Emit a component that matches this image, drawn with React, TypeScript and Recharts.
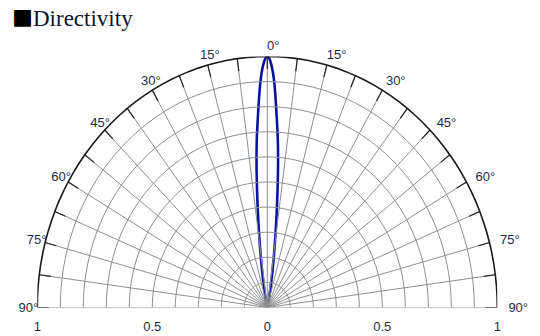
import React from 'react';
import { ComposedChart, Scatter, Line, XAxis, YAxis, ReferenceDot } from 'recharts';

// Directivity (relative intensity vs angle, symmetric)
const lobeAngles = [0, 1, 2, 3, 4, 5, 6, 7, 8, 9, 10, 12, 15, 20];
const lobeIntensity = [1.0, 0.97, 0.89, 0.77, 0.66, 0.53, 0.4, 0.29, 0.2, 0.13, 0.08, 0.035, 0.01, 0];

// grid
const ringRadii = [0.1, 0.2, 0.3, 0.4, 0.5, 0.6, 0.7, 0.8, 0.9];
const outerRadius = [1];
const spokeAngles = [-90, -82.5, -75, -67.5, -60, -52.5, -45, -37.5, -30, -22.5, -15, -7.5, 0, 7.5, 15, 22.5, 30, 37.5, 45, 52.5, 60, 67.5, 75, 82.5, 90];
const angleLabels = [0, 15, 30, 45, 60, 75, 90];
const radialTicks = [-1, -0.5, 0, 0.5, 1];

const W = 540;
const H = 336;
const ARC_STEP = 2.5;
const TICK_INNER = 0.95;
const LABEL_RX = 1.065;
const LABEL_RY = 1.045;
const LABEL_SHIFT = 0.026;

const rad = (d: number) => (d * Math.PI) / 180;
const toXY = (deg: number, r: number) => ({ x: r * Math.sin(rad(deg)), y: r * Math.cos(rad(deg)) });

const arcPoints = (r: number) => {
  const pts: { x: number; y: number }[] = [];
  for (let a = -90; a <= 90 + 1e-9; a += ARC_STEP) pts.push(toXY(a, r));
  return pts;
};

const lobeData = (() => {
  const pts: { x: number; y: number }[] = [];
  for (let i = lobeAngles.length - 1; i >= 1; i--) pts.push(toXY(-lobeAngles[i], lobeIntensity[i]));
  for (let i = 0; i < lobeAngles.length; i++) pts.push(toXY(lobeAngles[i], lobeIntensity[i]));
  return pts;
})();

const NoShape = () => <g />;

const labelColor = '#1e2a48';

const AngleText = (text: string) => (props: any) => (
  <text
    x={props.cx}
    y={props.cy}
    textAnchor="middle"
    dominantBaseline="central"
    fontFamily="'Liberation Sans', Arial, sans-serif"
    fontSize={13}
    fill={labelColor}
  >
    {text}
  </text>
);

export default function App() {
  const labelDots: React.ReactNode[] = [];
  angleLabels.forEach((a) => {
    const sides = a === 0 ? [1] : [-1, 1];
    sides.forEach((s) => {
      const p = toXY(s * a, 1);
      labelDots.push(
        <ReferenceDot
          key={`lab-${a}-${s}`}
          x={p.x * LABEL_RX + LABEL_SHIFT}
          y={p.y * LABEL_RY}
          r={0}
          ifOverflow="visible"
          shape={AngleText(`${a}°`)}
        />
      );
    });
  });

  return (
    <div style={{ position: 'absolute', left: 0, top: 0, width: W, height: H, background: '#fff' }}>
      <div
        style={{
          position: 'absolute',
          left: 12,
          top: 3,
          color: '#0d1530',
          whiteSpace: 'nowrap',
          lineHeight: '28px',
          display: 'flex',
          alignItems: 'baseline',
        }}
      >
        <span style={{ fontFamily: "'Noto Sans CJK JP', sans-serif", fontSize: 21, color: '#000' }}>■</span>
        <span style={{ fontFamily: "'Liberation Serif', 'Times New Roman', serif", fontSize: 23 }}>Directivity</span>
      </div>
      <ComposedChart width={W} height={H} margin={{ top: 56.5, left: 37.3, right: 42.7, bottom: 8.5 }}>
        <XAxis
          type="number"
          dataKey="x"
          domain={[-1, 1]}
          ticks={radialTicks}
          tickFormatter={(v: number) => `${Math.abs(v)}`}
          axisLine={false}
          tickLine={false}
          tickSize={0}
          tickMargin={14}
          height={20}
          interval={0}
          allowDataOverflow
          tick={{ fontFamily: "'Liberation Sans', Arial, sans-serif", fontSize: 13, fill: labelColor }}
        />
        <YAxis type="number" dataKey="y" domain={[0, 1]} hide allowDataOverflow />
        {ringRadii.map((r) => (
          <Scatter
            key={`ring-${r}`}
            data={arcPoints(r)}
            line={{ stroke: '#8f8f8f', strokeWidth: 1 }}
            lineType="joint"
            shape={NoShape}
            isAnimationActive={false}
          />
        ))}
        {spokeAngles.map((a) => (
          <Scatter
            key={`spoke-${a}`}
            data={[toXY(a, 0), toXY(a, 1)]}
            line={{ stroke: '#8f8f8f', strokeWidth: 1 }}
            lineType="joint"
            shape={NoShape}
            isAnimationActive={false}
          />
        ))}
        {spokeAngles.map((a) => (
          <Scatter
            key={`tick-${a}`}
            data={[toXY(a, TICK_INNER), toXY(a, 1)]}
            line={{ stroke: '#222', strokeWidth: 1.2 }}
            lineType="joint"
            shape={NoShape}
            isAnimationActive={false}
          />
        ))}
        {outerRadius.map((r) => (
          <Scatter
            key={`outer-${r}`}
            data={arcPoints(r)}
            line={{ stroke: '#1a1a1a', strokeWidth: 1.6 }}
            lineType="joint"
            shape={NoShape}
            isAnimationActive={false}
          />
        ))}
        <Line
          data={lobeData}
          dataKey="y"
          type="natural"
          stroke="#0a12a0"
          strokeWidth={2.6}
          dot={false}
          activeDot={false}
          isAnimationActive={false}
        />
        {labelDots}
      </ComposedChart>
    </div>
  );
}
